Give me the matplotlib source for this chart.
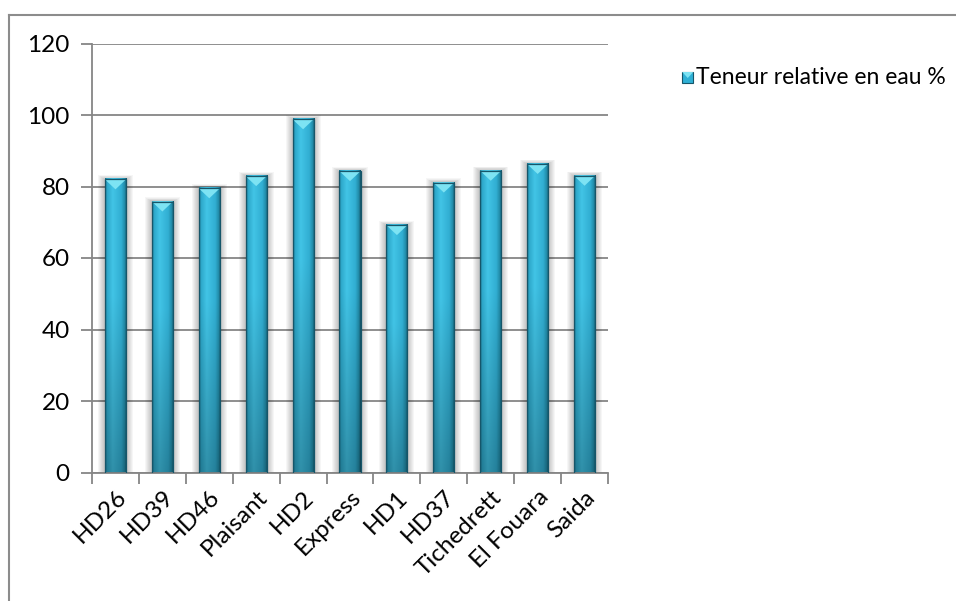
import numpy as np
import matplotlib
matplotlib.use("Agg")
import matplotlib.pyplot as plt
from matplotlib.patches import Rectangle, Polygon
from matplotlib.lines import Line2D
from matplotlib.colors import to_rgb

# Relative water content per variety
varieties = ["HD26", "HD39", "HD46", "Plaisant", "HD2", "Express", "HD1",
             "HD37", "Tichedrett", "El Fouara", "Saida"]
teneur = [82.0, 75.8, 79.5, 82.9, 98.8, 84.3, 69.2, 81.1, 84.4, 86.3, 83.0]
series_label = "Teneur relative en eau %"
y_ticks = [0, 20, 40, 60, 80, 100, 120]

plt.rcParams["font.family"] = ["Lato", "DejaVu Sans"]

W, H = 956, 601
fig = plt.figure(figsize=(W / 100, H / 100), dpi=100)
ax = fig.add_axes([92 / W, 1 - 472.5 / H, (608 - 92) / W, (472.5 - 43.5) / H])

n = len(varieties)
x = np.arange(n)
bar_w = 0.45
ax.set_xlim(-0.5, n - 0.5)
ax.set_ylim(0, 120)

grey = "#868686"
ax.set_yticks(y_ticks)
ax.yaxis.grid(True, color=grey, linewidth=1.3, zorder=0)
ax.set_axisbelow(True)
for s in ("top", "right"):
    ax.spines[s].set_visible(False)
for s in ("left", "bottom"):
    ax.spines[s].set_color(grey)
    ax.spines[s].set_linewidth(1.3)

ax.tick_params(axis="y", length=8, width=1.3, color=grey, pad=8, labelsize=17.5)
ax.set_xticks(x)
ax.set_xticklabels(varieties, rotation=45, ha="right", va="top",
                   rotation_mode="anchor", fontsize=17.5)
ax.tick_params(axis="x", which="major", length=0, pad=10)
ax.set_xticks(np.arange(n + 1) - 0.5, minor=True)
ax.tick_params(axis="x", which="minor", length=8, width=1.3, color=grey)

bars = ax.bar(x, teneur, width=bar_w, color="#2fb0d5", zorder=3)

# pixel sizes in data units
px_x = n / (608 - 92)
px_y = 120 / (472.5 - 43.5)

# Horizontal shading profile across each bar
prof_pos = [0.0, 0.08, 0.35, 0.75, 0.92, 1.0]
prof_col = ["#1a6a80", "#2ca6c8", "#42c4e6", "#31aed2", "#2088a4", "#144e60"]
xs = np.linspace(0, 1, 64)
hcols = np.array([np.interp(xs, prof_pos, [to_rgb(c)[i] for c in prof_col])
                  for i in range(3)]).T
ys = np.linspace(0, 1, 128)[:, None, None]
# darker towards the base
vfac = 0.74 + 0.26 * np.clip(ys / 0.6, 0, 1)
grad = np.clip(hcols[None, :, :] * vfac, 0, 1)

for rect in bars:
    x0 = rect.get_x()
    w = rect.get_width()
    h = rect.get_height()
    # soft drop shadow
    for k in range(1, 8):
        ax.add_patch(Rectangle((x0 - k * px_x, 0), w + 2 * k * px_x,
                               h + k * px_y * 0.6, facecolor="#000000",
                               alpha=0.035, edgecolor="none", zorder=2))
    ax.imshow(grad, extent=(x0, x0 + w, 0, h), origin="lower",
              aspect="auto", zorder=4, interpolation="bilinear")
    # top bevel
    bev = 10 * px_y
    ax.add_patch(Polygon([(x0, h), (x0 + w, h), (x0 + w / 2, h - bev)],
                         closed=True, facecolor="#7de3f3", edgecolor="none",
                         zorder=5))
    ax.add_patch(Rectangle((x0, 0), w, h, facecolor="none",
                           edgecolor="#16566a", linewidth=0.9, zorder=6))
    rect.set_visible(False)

ax.set_xlim(-0.5, n - 0.5)
ax.set_ylim(0, 120)

# Legend entry: text right-aligned, swatch placed just before it
txt = fig.text(946 / W, 1 - 77 / H, series_label, fontsize=16.5,
               va="center", ha="right")
fig.canvas.draw()
bb = txt.get_window_extent(fig.canvas.get_renderer())
sx = bb.x0 - 14
sy = H - 83
lx, ly = sx / W, sy / H
fig.patches.append(Rectangle((lx, ly), 11 / W, 11 / H, transform=fig.transFigure,
                             facecolor="#2fb0d5", edgecolor="#16566a",
                             linewidth=0.8))
fig.patches.append(Polygon([(lx, ly + 11 / H), (lx + 11 / W, ly + 11 / H),
                            (lx + 5.5 / W, ly + 5 / H)], closed=True,
                           transform=fig.transFigure, facecolor="#7de3f3",
                           edgecolor="none"))

# Chart area border
fig.lines.append(Line2D([9 / W, 1.0], [1 - 14.5 / H, 1 - 14.5 / H],
                        transform=fig.transFigure, color="#8c8c8c", linewidth=1.5))
fig.lines.append(Line2D([9 / W, 9 / W], [1 - 14.5 / H, 0],
                        transform=fig.transFigure, color="#8c8c8c", linewidth=1.5))

fig.savefig("out.png", dpi=100, facecolor="white")
